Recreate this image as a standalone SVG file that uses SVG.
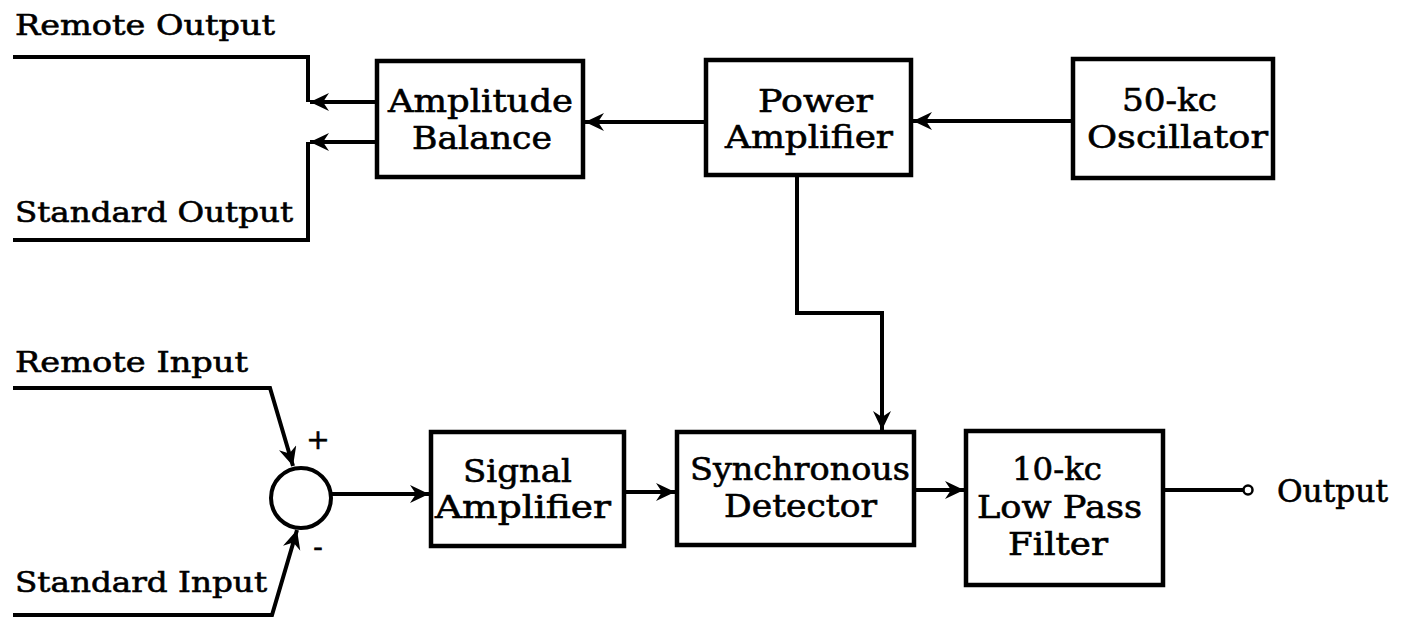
<svg xmlns="http://www.w3.org/2000/svg" width="1404" height="619" viewBox="0 0 1404 619">
<style>
  .box { fill: none; stroke: #000; stroke-width: 4.5; }
  .ln { fill: none; stroke: #000; stroke-width: 4; stroke-linejoin: miter; }
  .t { font-family: "DejaVu Serif", "Liberation Serif", serif; font-size: 31px; fill: #000; stroke: #000; stroke-width: 0.6; }
  .s { font-family: "DejaVu Serif", "Liberation Serif", serif; font-size: 28px; fill: #000; stroke: #000; stroke-width: 0.6; }
</style>
<defs>
  <marker id="arr" markerUnits="userSpaceOnUse" markerWidth="22" markerHeight="20" refX="19" refY="9" orient="auto">
    <path d="M0,0 L19,9 L0,18 L6,9 z" fill="#000"/>
  </marker>
</defs>
<rect width="1404" height="619" fill="#fff"/>

<g id="amplitude-balance">
  <rect class="box" x="377" y="61" width="206" height="116"/>
  <text class="t" x="388" y="112" textLength="185" lengthAdjust="spacingAndGlyphs">Amplitude</text>
  <text class="t" x="412" y="149" textLength="140" lengthAdjust="spacingAndGlyphs">Balance</text>
</g>
<g id="power-amplifier">
  <rect class="box" x="706" y="60" width="205" height="115"/>
  <text class="t" x="758" y="112" textLength="115" lengthAdjust="spacingAndGlyphs">Power</text>
  <text class="t" x="725" y="148" textLength="168" lengthAdjust="spacingAndGlyphs">Amplifier</text>
</g>
<g id="oscillator">
  <rect class="box" x="1073" y="59" width="200" height="119"/>
  <text class="t" x="1122" y="111" textLength="95" lengthAdjust="spacingAndGlyphs">50-kc</text>
  <text class="t" x="1087" y="148" textLength="181" lengthAdjust="spacingAndGlyphs">Oscillator</text>
</g>
<g id="signal-amplifier">
  <rect class="box" x="431" y="432" width="193" height="114"/>
  <text class="t" x="463" y="482" textLength="109" lengthAdjust="spacingAndGlyphs">Signal</text>
  <text class="t" x="435" y="518" textLength="176" lengthAdjust="spacingAndGlyphs">Amplifier</text>
</g>
<g id="synchronous-detector">
  <rect class="box" x="677" y="432" width="237" height="113"/>
  <text class="t" x="690" y="480" textLength="220" lengthAdjust="spacingAndGlyphs">Synchronous</text>
  <text class="t" x="724" y="517" textLength="153" lengthAdjust="spacingAndGlyphs">Detector</text>
</g>
<g id="low-pass-filter">
  <rect class="box" x="966" y="431" width="197" height="154"/>
  <text class="t" x="1012" y="480" textLength="90" lengthAdjust="spacingAndGlyphs">10-kc</text>
  <text class="t" x="977" y="518" textLength="165" lengthAdjust="spacingAndGlyphs">Low Pass</text>
  <text class="t" x="1008" y="555" textLength="100" lengthAdjust="spacingAndGlyphs">Filter</text>
</g>
<g id="summing-junction">
  <circle cx="301" cy="498" r="30" fill="none" stroke="#000" stroke-width="4"/>
  <text class="s" x="318" y="449" text-anchor="middle">+</text>
  <text class="s" x="318" y="556" text-anchor="middle">-</text>
</g>
<g id="labels">
  <text class="s" x="15" y="35" textLength="260" lengthAdjust="spacingAndGlyphs">Remote Output</text>
  <text class="s" x="15" y="222" textLength="278" lengthAdjust="spacingAndGlyphs">Standard Output</text>
  <text class="s" x="15" y="372" textLength="233" lengthAdjust="spacingAndGlyphs">Remote Input</text>
  <text class="s" x="15" y="592" textLength="252" lengthAdjust="spacingAndGlyphs">Standard Input</text>
  <text class="t" x="1277" y="502" textLength="111" lengthAdjust="spacingAndGlyphs">Output</text>
</g>

<g id="connectors">
  <line class="ln" x1="1073" y1="121" x2="913" y2="121" marker-end="url(#arr)"/>
  <line class="ln" x1="706" y1="122" x2="585" y2="122" marker-end="url(#arr)"/>
  <line class="ln" x1="377" y1="102" x2="310" y2="102" marker-end="url(#arr)"/>
  <polyline class="ln" points="13,57 308,57 308,102"/>
  <line class="ln" x1="377" y1="142" x2="310" y2="142" marker-end="url(#arr)"/>
  <polyline class="ln" points="308,142 308,240 13,240"/>
  <polyline class="ln" points="797,175 797,313 882,313 882,430" marker-end="url(#arr)"/>
  <polyline class="ln" points="13,388 270,388 293,466" marker-end="url(#arr)"/>
  <polyline class="ln" points="13,615 272,615 297,530" marker-end="url(#arr)"/>
  <line class="ln" x1="331" y1="494" x2="429" y2="494" marker-end="url(#arr)"/>
  <line class="ln" x1="624" y1="492" x2="675" y2="492" marker-end="url(#arr)"/>
  <line class="ln" x1="914" y1="490" x2="964" y2="490" marker-end="url(#arr)"/>
  <line class="ln" x1="1163" y1="490" x2="1244" y2="490"/>
  <circle cx="1248" cy="490" r="4.5" fill="#fff" stroke="#000" stroke-width="2.5"/>
</g>
</svg>
